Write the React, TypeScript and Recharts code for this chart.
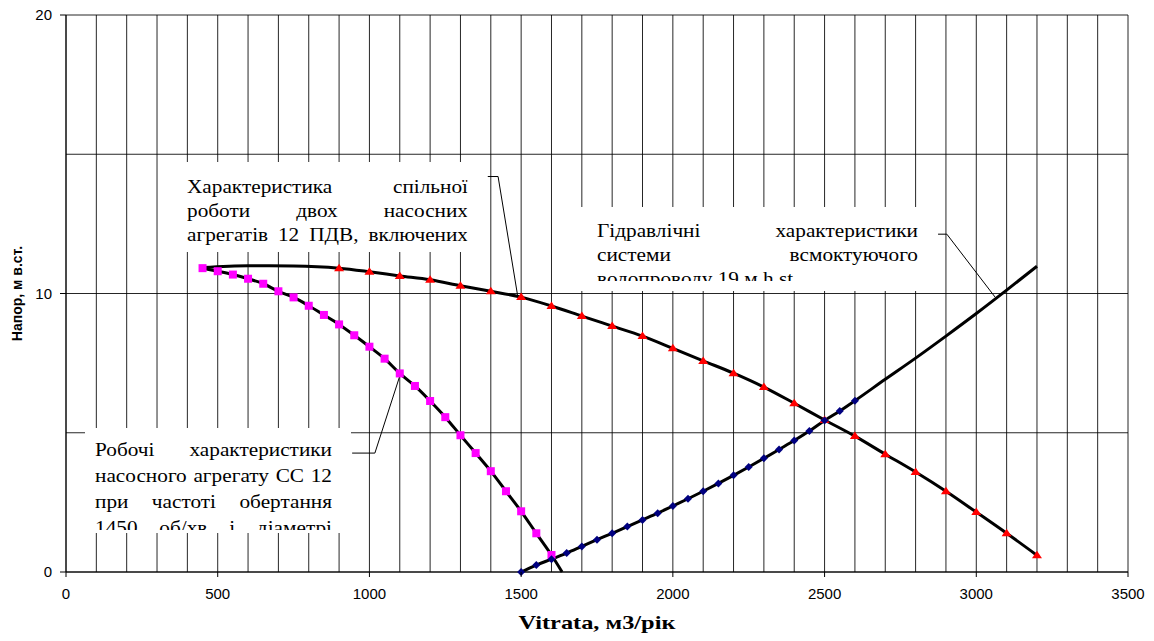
import React from 'react';
import { LineChart, Line, XAxis, YAxis, CartesianGrid, ReferenceLine, Label } from 'recharts';

// Single pump (СС 12) curve – magenta square markers
const PUMP_Q = [450, 500, 550, 600, 650, 700, 750, 800, 850, 900, 950, 1000, 1050, 1100, 1150, 1200, 1250, 1300, 1350, 1400, 1450, 1500, 1550, 1600];
const PUMP_H = [10.91, 10.8, 10.68, 10.53, 10.35, 10.08, 9.86, 9.56, 9.23, 8.89, 8.5, 8.09, 7.66, 7.13, 6.68, 6.14, 5.56, 4.91, 4.27, 3.62, 2.9, 2.18, 1.39, 0.61];
const PUMP_END_Q = [1635];
const PUMP_END_H = [0];

// Two pumps in parallel – red triangle markers
const COMB_START_Q = [450, 600, 750];
const COMB_START_H = [10.93, 11.0, 10.99];
const COMB_Q = [900, 1000, 1100, 1200, 1300, 1400, 1500, 1600, 1700, 1800, 1900, 2000, 2100, 2200, 2300, 2400, 2500, 2600, 2700, 2800, 2900, 3000, 3100, 3200];
const COMB_H = [10.91, 10.78, 10.63, 10.49, 10.28, 10.08, 9.87, 9.55, 9.19, 8.83, 8.47, 8.03, 7.58, 7.14, 6.64, 6.06, 5.46, 4.88, 4.23, 3.59, 2.9, 2.15, 1.39, 0.6];

// System curve – navy diamond markers
const SYS_Q = [1500, 1550, 1600, 1650, 1700, 1750, 1800, 1850, 1900, 1950, 2000, 2050, 2100, 2150, 2200, 2250, 2300, 2350, 2400, 2450, 2500, 2550, 2600];
const SYS_H = [0, 0.25, 0.46, 0.68, 0.92, 1.16, 1.39, 1.63, 1.87, 2.11, 2.37, 2.63, 2.9, 3.18, 3.47, 3.77, 4.08, 4.4, 4.72, 5.06, 5.44, 5.78, 6.15];
const SYS_TAIL_Q = [2700, 2800, 2900, 3000, 3100, 3200];
const SYS_TAIL_H = [6.92, 7.68, 8.47, 9.28, 10.12, 10.98];

// Axes
const X_GRID_TICKS = [0, 100, 200, 300, 400, 500, 600, 700, 800, 900, 1000, 1100, 1200, 1300, 1400, 1500, 1600, 1700, 1800, 1900, 2000, 2100, 2200, 2300, 2400, 2500, 2600, 2700, 2800, 2900, 3000, 3100, 3200, 3300, 3400, 3500];
const X_LABELED = [0, 500, 1000, 1500, 2000, 2500, 3000, 3500];
const Y_GRID_TICKS = [0, 5, 10, 15, 20];
const Y_LABELED = [0, 10, 20];

const X_TITLE = 'Vitrata, м3/рік';
const Y_TITLE = 'Напор, м в.ст.';
const NOTE_COMB = 'Характеристика спільної роботи двох насосних агрегатів 12 ПДВ, включених';
const NOTE_SYS = 'Гідравлічні характеристики системи всмоктуючого водопроводу 19 м.h.st';
const NOTE_PUMP = 'Робочі характеристики насосного агрегату СС 12 при частоті обертання 1450 об/хв і діаметрі';

// leader lines (data coordinates)
const LEADER_COMB = [{ x: 1390, y: 14.2 }, { x: 1424, y: 14.2 }, { x: 1488, y: 9.95 }];
const LEADER_SYS = [{ x: 2874, y: 12.13 }, { x: 2903, y: 12.13 }, { x: 3062, y: 9.87 }];
const LEADER_PUMP = [{ x: 943, y: 4.27 }, { x: 1018, y: 4.27 }, { x: 1101, y: 7.07 }];

const zip = (q: number[], h: number[]) => q.map((x, i) => ({ x, y: h[i] }));

const pumpMarkers = zip(PUMP_Q, PUMP_H);
const pumpLine = [...pumpMarkers, ...zip(PUMP_END_Q, PUMP_END_H)];
const combMarkers = zip(COMB_Q, COMB_H);
const combLine = [...zip(COMB_START_Q, COMB_START_H), ...combMarkers];
const sysMarkers = zip(SYS_Q, SYS_H);
const sysLine = [...sysMarkers, ...zip(SYS_TAIL_Q, SYS_TAIL_H)];

const X_TICK_SIZE = 5;
const X_TICK_MARGIN = 11;
const Y_TICK_SIZE = 6;
const Y_TICK_MARGIN = 8;
const SANS = '"Liberation Sans", Arial, sans-serif';
const SERIF = '"Liberation Serif", "Times New Roman", serif';
const STRETCH = 1.14;
const SHIFT = 8; // wrapper is shifted up by this many px so the svg starts at the page top

const XTick = (props: any) => {
  const { x, y, payload } = props;
  const v = payload.value;
  if (!X_LABELED.includes(v)) return <g />;
  const y0 = y - X_TICK_SIZE - X_TICK_MARGIN;
  return (
    <g>
      <line x1={x} x2={x} y1={y0} y2={y0 + X_TICK_SIZE} stroke="#000" strokeWidth={1} />
      <text x={x} y={y} dy="0.71em" textAnchor="middle" fontFamily={SANS} fontSize={15} fill="#000">{v}</text>
    </g>
  );
};

const YTick = (props: any) => {
  const { x, y, payload } = props;
  const v = payload.value;
  if (!Y_LABELED.includes(v)) return <g />;
  const x0 = x + Y_TICK_MARGIN;
  return (
    <g>
      <line x1={x0} x2={x0 + Y_TICK_SIZE} y1={y} y2={y} stroke="#000" strokeWidth={1} />
      <text x={x} y={y} dy="0.355em" textAnchor="end" fontFamily={SANS} fontSize={15} fill="#000">{v}</text>
    </g>
  );
};

const Square = (props: any) => {
  const { cx, cy } = props;
  if (cx == null || cy == null) return <g />;
  return <rect x={cx - 4} y={cy - 4} width={8} height={8} fill="#FF00FF" />;
};
const Triangle = (props: any) => {
  const { cx, cy } = props;
  if (cx == null || cy == null) return <g />;
  return <polygon points={`${cx},${cy - 4.5} ${cx + 5},${cy + 3} ${cx - 5},${cy + 3}`} fill="#FF0000" />;
};
const Diamond = (props: any) => {
  const { cx, cy } = props;
  if (cx == null || cy == null) return <g />;
  return <polygon points={`${cx},${cy - 4} ${cx + 4},${cy} ${cx},${cy + 4} ${cx - 4},${cy}`} fill="#000080" />;
};

const noteBox = (
  text: string,
  box: { left: number; top: number; width: number; height: number },
  inner: { left: number; top: number; width: number; height: number; lh: number; last: boolean }
) => (
  <div
    style={{
      position: 'absolute',
      left: box.left,
      top: box.top + SHIFT,
      width: box.width,
      height: box.height,
      background: '#fff',
      overflow: 'hidden',
    }}
  >
    <div
      style={{
        position: 'absolute',
        left: inner.left,
        top: inner.top,
        width: inner.width / STRETCH,
        height: inner.height,
        overflow: 'hidden',
        transform: `scaleX(${STRETCH})`,
        transformOrigin: 'left top',
        fontFamily: SERIF,
        fontSize: 18.67,
        lineHeight: `${inner.lh}px`,
        textAlign: 'justify',
        textAlignLast: inner.last ? 'justify' : 'auto',
        color: '#000',
      }}
    >
      {text}
    </div>
  </div>
);

const segs = (pts: { x: number; y: number }[], key: string) =>
  pts.slice(0, -1).map((p, i) => (
    <ReferenceLine
      key={`${key}-${i}`}
      segment={[p, pts[i + 1]]}
      stroke="#000"
      strokeWidth={1}
      ifOverflow="visible"
    />
  ));

export default function App() {
  return (
    <div style={{ position: 'relative', top: -SHIFT, width: 1138, height: 633 }}>
      <LineChart width={1138} height={633} margin={{ top: 7 + SHIFT, right: 18, bottom: 31, left: 0 }}>
        <CartesianGrid stroke="#000" strokeWidth={1} strokeOpacity={0.85} />
        <XAxis
          dataKey="x"
          type="number"
          domain={[0, 3500]}
          ticks={X_GRID_TICKS}
          interval={0}
          tickSize={X_TICK_SIZE}
          tickMargin={X_TICK_MARGIN}
          tickLine={false}
          tick={<XTick />}
          height={30}
          axisLine={{ stroke: '#000' }}
        >
          <Label
            content={(p: any) => {
              const vb = p.viewBox;
              const cx = vb.x + vb.width / 2;
              return (
                <text
                  x={cx}
                  y={vb.y + vb.height + 13}
                  dy="0.71em"
                  textAnchor="middle"
                  transform={`translate(${cx} 0) scale(1.25 1) translate(${-cx} 0)`}
                  fontFamily={SERIF}
                  fontWeight="bold"
                  fontSize={19.5}
                  fill="#000"
                >
                  {X_TITLE}
                </text>
              );
            }}
          />
        </XAxis>
        <YAxis
          dataKey="y"
          type="number"
          domain={[0, 20]}
          ticks={Y_GRID_TICKS}
          interval={0}
          tickSize={Y_TICK_SIZE}
          tickMargin={Y_TICK_MARGIN}
          tickLine={false}
          tick={<YTick />}
          width={58}
          axisLine={{ stroke: '#000' }}
        >
          <Label
            content={(p: any) => {
              const vb = p.viewBox;
              const cx = vb.x + 9;
              const cy = vb.y + vb.height / 2;
              return (
                <text
                  x={cx}
                  y={cy}
                  dy="0.355em"
                  textAnchor="middle"
                  transform={`rotate(-90 ${cx} ${cy})`}
                  fontFamily={SANS}
                  fontWeight="bold"
                  fontSize={14}
                  fill="#000"
                >
                  {Y_TITLE}
                </text>
              );
            }}
          />
        </YAxis>

        {/* markers under lines */}
        <Line data={pumpMarkers} dataKey="y" stroke="none" dot={<Square />} activeDot={false} isAnimationActive={false} legendType="none" />
        <Line data={combMarkers} dataKey="y" stroke="none" dot={<Triangle />} activeDot={false} isAnimationActive={false} legendType="none" />
        <Line data={sysMarkers} dataKey="y" stroke="none" dot={<Diamond />} activeDot={false} isAnimationActive={false} legendType="none" />

        {/* smoothed black curves */}
        <Line data={pumpLine} dataKey="y" type="monotone" stroke="#000" strokeWidth={3} dot={false} activeDot={false} isAnimationActive={false} />
        <Line data={combLine} dataKey="y" type="monotone" stroke="#000" strokeWidth={3} dot={false} activeDot={false} isAnimationActive={false} />
        <Line data={sysLine} dataKey="y" type="monotone" stroke="#000" strokeWidth={3} dot={false} activeDot={false} isAnimationActive={false} />

        {segs(LEADER_COMB, 'lc')}
        {segs(LEADER_SYS, 'ls')}
        {segs(LEADER_PUMP, 'lp')}
      </LineChart>

      {noteBox(NOTE_COMB, { left: 170, top: 154, width: 309, height: 90 }, { left: 9, top: 12.7, width: 281, height: 71, lh: 24, last: true })}
      {noteBox(NOTE_SYS, { left: 568, top: 199, width: 359, height: 84 }, { left: 21, top: 11.7, width: 321, height: 62, lh: 24, last: false })}
      {noteBox(NOTE_PUMP, { left: 77, top: 420, width: 266, height: 105 }, { left: 10, top: 8.7, width: 237, height: 93, lh: 26, last: true })}
    </div>
  );
}
